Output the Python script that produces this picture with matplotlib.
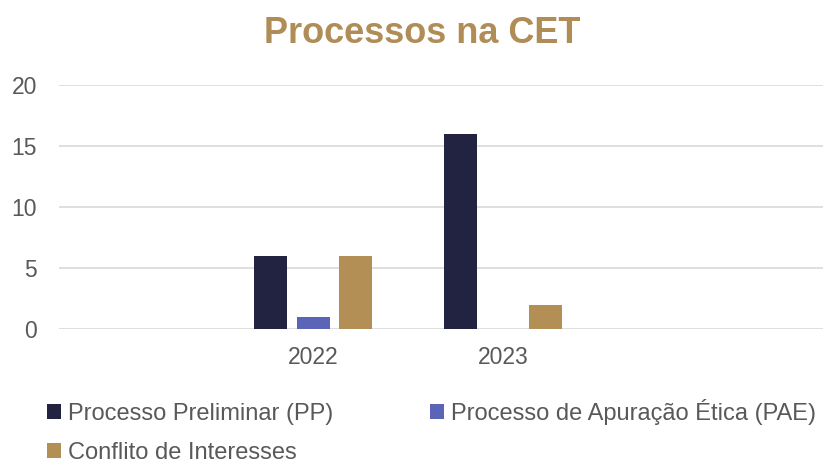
import matplotlib
matplotlib.use("Agg")
import matplotlib.pyplot as plt
import numpy as np

# dados
anos = ["2022", "2023"]
series = ["Processo Preliminar (PP)", "Processo de Apuração Ética (PAE)", "Conflito de Interesses"]
pp = [6, 16]
pae = [1, 0]
conflito = [6, 2]
cores = ["#212340", "#5B64B6", "#B38F55"]

plt.rcParams["font.family"] = ["Liberation Sans", "DejaVu Sans"]

fig = plt.figure(figsize=(8.23, 4.59), dpi=100)
W, H = 823, 459
ax = fig.add_axes([59 / W, (H - 329) / H, (W - 59) / W, (329 - 85) / H])

x = np.arange(len(anos))
largura = 0.174
passo = 0.224
barras = []
for i, (nome, vals) in enumerate(zip(series, [pp, pae, conflito])):
    b = ax.bar(x + (i - 1) * passo, vals, largura, color=cores[i], label=nome, zorder=3)
    barras.append(b)

ax.set_ylim(0, 20)
ax.set_yticks([0, 5, 10, 15, 20])
ax.set_xlim(-1.337, 2.684)
ax.set_xticks(x)
ax.set_xticklabels(anos)
ax.grid(axis="y", color="#D9D9D9", linewidth=1.2, zorder=0)
ax.set_axisbelow(True)
for s in ax.spines.values():
    s.set_visible(False)
ax.tick_params(axis="both", length=0, labelsize=16.5, labelcolor="#595959")
ax.tick_params(axis="y", pad=16)
ax.tick_params(axis="x", pad=12)

fig.text(422 / W, 1 - 43 / H, "Processos na CET", ha="center", va="baseline",
         fontsize=26, fontweight="bold", color="#B08D57")

# legenda preenchida por linhas: PP, PAE / Conflito
ordem = [0, 2, 1]
fig.legend([barras[i] for i in ordem], [series[i] for i in ordem],
           loc="upper left", bbox_to_anchor=(47 / W, 1 - 399 / H), ncol=2,
           frameon=False, fontsize=17, labelcolor="#595959",
           handlelength=0.58, handleheight=0.58, handletextpad=0.3,
           columnspacing=4.1, labelspacing=0.72, borderpad=0, borderaxespad=0)

fig.savefig("out.png", dpi=100)
